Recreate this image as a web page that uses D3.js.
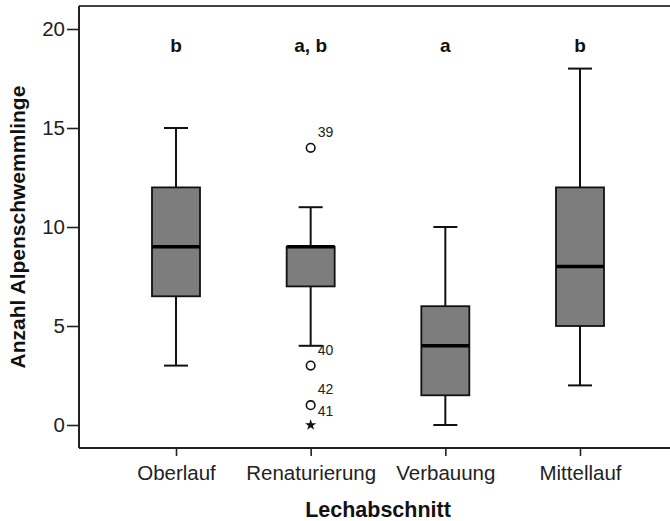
<!DOCTYPE html>
<html>
<head>
<meta charset="utf-8">
<script src="https://cdn.jsdelivr.net/npm/d3@7"></script>
<style>
  html, body { margin: 0; padding: 0; background: #fff; }
  svg { display: block; font-family: "Liberation Sans", Arial, sans-serif; }
</style>
</head>
<body>
<svg id="chart" width="670" height="521"></svg>
<script>
// ---- data ----
const categories = ["Oberlauf", "Renaturierung", "Verbauung", "Mittellauf"];
const whiskerLow = [3, 4, 0, 2];
const q1 = [6.5, 7, 1.5, 5];
const medians = [9, 9, 4, 8];
const q3 = [12, 9, 6, 12];
const whiskerHigh = [15, 11, 10, 18];
const groupLetters = ["b", "a, b", "a", "b"];
const outlierCategory = ["Renaturierung", "Renaturierung", "Renaturierung", "Renaturierung"];
const outlierValues = [14, 3, 1, 0];
const outlierCases = ["39", "40", "42", "41"];
const outlierKinds = ["circle", "circle", "circle", "star"];
const yTicks = [0, 5, 10, 15, 20];
const xTitle = "Lechabschnitt";
const yTitle = "Anzahl Alpenschwemmlinge";

// ---- layout ----
const frame = { left: 79, top: 6, right: 677, bottom: 448 };
const svg = d3.select("#chart");

const y = d3.scaleLinear().domain([0, 20]).range([425, 29]);
const x = d3.scalePoint().domain(categories).range([176, 580]);
const boxHalf = 24, capHalf = 12;

// frame (top + right, clipped by viewport)
svg.append("path")
  .attr("d", `M${frame.left},${frame.top}H${frame.right}V${frame.bottom}`)
  .attr("fill", "none").attr("stroke", "#444").attr("stroke-width", 2);

// y axis
const yAxis = svg.append("g")
  .attr("transform", `translate(${frame.left},0)`)
  .call(d3.axisLeft(y).tickValues(yTicks).tickSize(12).tickPadding(2).tickSizeOuter(0));
yAxis.select(".domain").remove();
yAxis.append("line").attr("x1", 0).attr("x2", 0).attr("y1", frame.top).attr("y2", frame.bottom)
  .attr("stroke", "#222").attr("stroke-width", 2);
yAxis.selectAll(".tick line").attr("stroke", "#222").attr("stroke-width", 1.6);
yAxis.selectAll(".tick text").attr("font-size", 20.5).attr("fill", "#222")
  .attr("font-family", "Liberation Sans, Arial, sans-serif");

// x axis
const xAxis = svg.append("g")
  .attr("transform", `translate(0,${frame.bottom})`)
  .call(d3.axisBottom(x).tickSize(8).tickSizeOuter(0));
xAxis.select(".domain").remove();
xAxis.append("line").attr("x1", frame.left).attr("x2", frame.right).attr("y1", 0).attr("y2", 0)
  .attr("stroke", "#222").attr("stroke-width", 2);
xAxis.selectAll(".tick line").attr("stroke", "#222").attr("stroke-width", 1.6);
xAxis.selectAll(".tick text").attr("font-size", 20.5).attr("fill", "#222")
  .attr("y", 32).attr("dy", 0)
  .attr("font-family", "Liberation Sans, Arial, sans-serif");

// titles
svg.append("text").text(xTitle)
  .attr("x", (frame.left + frame.right) / 2).attr("y", 517)
  .attr("text-anchor", "middle").attr("font-weight", "bold").attr("font-size", 21.5).attr("fill", "#111");
svg.append("text").text(yTitle)
  .attr("transform", `translate(25,${227}) rotate(-90)`)
  .attr("text-anchor", "middle").attr("font-weight", "bold").attr("font-size", 21).attr("fill", "#111");

// boxes
const stats = categories.map((c, i) => ({
  c, lo: whiskerLow[i], q1: q1[i], med: medians[i], q3: q3[i], hi: whiskerHigh[i], letter: groupLetters[i]
}));
const g = svg.append("g");
const box = g.selectAll("g.box").data(stats).join("g").attr("class", "box");

box.append("line") // upper whisker
  .attr("x1", d => x(d.c)).attr("x2", d => x(d.c))
  .attr("y1", d => y(d.q3)).attr("y2", d => y(d.hi))
  .attr("stroke", "#111").attr("stroke-width", 2);
box.append("line") // lower whisker
  .attr("x1", d => x(d.c)).attr("x2", d => x(d.c))
  .attr("y1", d => y(d.q1)).attr("y2", d => y(d.lo))
  .attr("stroke", "#111").attr("stroke-width", 2);
box.append("line")
  .attr("x1", d => x(d.c) - capHalf).attr("x2", d => x(d.c) + capHalf)
  .attr("y1", d => y(d.hi)).attr("y2", d => y(d.hi))
  .attr("stroke", "#111").attr("stroke-width", 2);
box.append("line")
  .attr("x1", d => x(d.c) - capHalf).attr("x2", d => x(d.c) + capHalf)
  .attr("y1", d => y(d.lo)).attr("y2", d => y(d.lo))
  .attr("stroke", "#111").attr("stroke-width", 2);
box.append("rect")
  .attr("x", d => x(d.c) - boxHalf).attr("width", boxHalf * 2)
  .attr("y", d => y(d.q3)).attr("height", d => y(d.q1) - y(d.q3))
  .attr("fill", "#7d7d7d").attr("stroke", "#111").attr("stroke-width", 1.8);
box.append("line")
  .attr("x1", d => x(d.c) - boxHalf).attr("x2", d => x(d.c) + boxHalf)
  .attr("y1", d => y(d.med)).attr("y2", d => y(d.med))
  .attr("stroke", "#000").attr("stroke-width", 3.5);

// group letters
g.selectAll("text.letter").data(stats).join("text").attr("class", "letter")
  .text(d => d.letter)
  .attr("x", d => x(d.c)).attr("y", 51.5)
  .attr("text-anchor", "middle").attr("font-weight", "bold").attr("font-size", 19).attr("fill", "#111");

// outliers
const outs = outlierValues.map((v, i) => ({ c: outlierCategory[i], v, id: outlierCases[i], kind: outlierKinds[i] }));
const og = g.selectAll("g.out").data(outs).join("g").attr("class", "out")
  .attr("transform", d => `translate(${x(d.c)},${y(d.v)})`);
og.filter(d => d.kind === "circle").append("circle")
  .attr("r", 4.3).attr("fill", "#fff").attr("stroke", "#111").attr("stroke-width", 1.6);
og.filter(d => d.kind === "star").append("path")
  .attr("d", d3.symbol(d3.symbolStar, 40)())
  .attr("fill", "#111");
og.append("text").text(d => d.id)
  .attr("x", 7).attr("y", d => d.kind === "star" ? -9 : -11)
  .attr("font-size", 14).attr("fill", "#222");
</script>
</body>
</html>
